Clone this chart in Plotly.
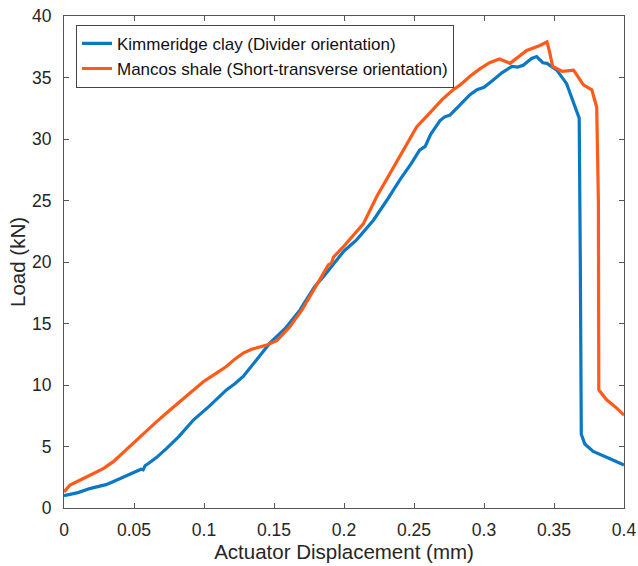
import plotly.graph_objects as go

# Load vs actuator displacement
kim_x = [0, 0.01, 0.019, 0.03, 0.035, 0.045, 0.052, 0.055, 0.0565, 0.058, 0.06,
         0.066, 0.0733, 0.082, 0.0924, 0.104, 0.116, 0.122, 0.128, 0.134, 0.14,
         0.147, 0.158, 0.1686, 0.179, 0.186, 0.1924, 0.2, 0.209, 0.221, 0.2305,
         0.24, 0.248, 0.254, 0.258, 0.262, 0.2686, 0.272, 0.2757, 0.283, 0.29,
         0.295, 0.3, 0.3066, 0.313, 0.32, 0.324, 0.328, 0.334, 0.3376, 0.342,
         0.345, 0.352, 0.359, 0.364, 0.368, 0.3688, 0.3695, 0.372, 0.378, 0.39,
         0.4]
kim_y = [1.0, 1.25, 1.6, 1.9, 2.14, 2.65, 3.0, 3.15, 3.1, 3.45, 3.6,
         4.1, 4.85, 5.8, 7.15, 8.3, 9.6, 10.1, 10.7, 11.5, 12.4,
         13.4, 14.6, 16.1, 18.0, 18.9, 19.8, 20.9, 21.8, 23.4, 25.0,
         26.7, 28.0, 29.1, 29.4, 30.4, 31.5, 31.8, 31.95, 32.8, 33.6,
         34.0, 34.2, 34.8, 35.4, 35.9, 35.85, 36.0, 36.55, 36.7, 36.2,
         36.15, 35.6, 34.5, 32.9, 31.7, 20.0, 6.0, 5.2, 4.6, 4.0,
         3.5]

man_x = [0, 0.0043, 0.012, 0.021, 0.028, 0.0352, 0.044, 0.0543, 0.065, 0.0757,
         0.088, 0.0995, 0.108, 0.116, 0.122, 0.128, 0.134, 0.14, 0.1448, 0.152,
         0.161, 0.17, 0.178, 0.1855, 0.1888, 0.191, 0.1925, 0.2, 0.2138, 0.2233,
         0.232, 0.24, 0.246, 0.252, 0.262, 0.27, 0.278, 0.283, 0.29, 0.297,
         0.304, 0.311, 0.3186, 0.325, 0.3305, 0.34, 0.345, 0.347, 0.349, 0.356,
         0.364, 0.371, 0.377, 0.3805, 0.3817, 0.382, 0.3876, 0.395, 0.4]
man_y = [1.3, 1.87, 2.3, 2.8, 3.2, 3.77, 4.7, 5.8, 6.9, 7.97,
         9.2, 10.27, 10.9, 11.5, 12.1, 12.6, 12.9, 13.1, 13.25, 13.6,
         14.7, 16.1, 17.7, 19.2, 19.76, 19.9, 20.4, 21.3, 23.1, 25.3,
         27.0, 28.6, 29.8, 31.0, 32.2, 33.2, 34.0, 34.4, 35.1, 35.7,
         36.2, 36.5, 36.15, 36.7, 37.2, 37.6, 37.9, 37.0, 35.9, 35.5,
         35.6, 34.4, 34.0, 32.6, 25.0, 9.6, 8.8, 8.1, 7.55]

x_ticks = [0, 0.05, 0.1, 0.15, 0.2, 0.25, 0.3, 0.35, 0.4]
x_labels = ['0', '0.05', '0.1', '0.15', '0.2', '0.25', '0.3', '0.35', '0.4']
y_ticks = [0, 5, 10, 15, 20, 25, 30, 35, 40]

fig = go.Figure()
fig.add_trace(go.Scatter(x=kim_x, y=kim_y, mode='lines',
                         name='Kimmeridge clay (Divider orientation)',
                         line=dict(color='#0A78C4', width=3.2)))
fig.add_trace(go.Scatter(x=man_x, y=man_y, mode='lines',
                         name='Mancos shale (Short-transverse orientation)',
                         line=dict(color='#FF5A18', width=3.2)))

axis_common = dict(showline=True, linecolor='#555', linewidth=1, mirror='ticks',
                   ticks='inside', ticklen=5, tickcolor='#555', showgrid=False,
                   zeroline=False, tickfont=dict(size=17.5, color='#262626'),
                   ticklabeloverflow='allow', automargin=False)

fig.update_xaxes(range=[0, 0.4], tickvals=x_ticks, ticktext=x_labels,
                 ticklabelstandoff=6,
                 title=dict(text='Actuator Displacement (mm)',
                            font=dict(size=20.5, color='#262626'), standoff=4),
                 **axis_common)
fig.update_yaxes(range=[0, 40], tickvals=y_ticks, ticklabelstandoff=8,
                 title=dict(text='Load (kN)', font=dict(size=20.5, color='#262626'),
                            standoff=0),
                 **axis_common)

fig.update_layout(
    width=638, height=566,
    margin=dict(l=64, r=14, t=16, b=58),
    plot_bgcolor='white', paper_bgcolor='white',
    font=dict(family='Liberation Sans, Arial, sans-serif'),
    legend=dict(x=0.0214, y=0.982, xanchor='left', yanchor='top',
                bgcolor='white', bordercolor='#444', borderwidth=1,
                font=dict(size=17, color='#111'), tracegroupgap=0,
                itemwidth=30),
    showlegend=True,
)

# drop the default 8px page margin so the figure sits at the window corner
fig.write_html("out.html", config={'displayModeBar': False},
               post_script="document.body.style.margin = '0';")
